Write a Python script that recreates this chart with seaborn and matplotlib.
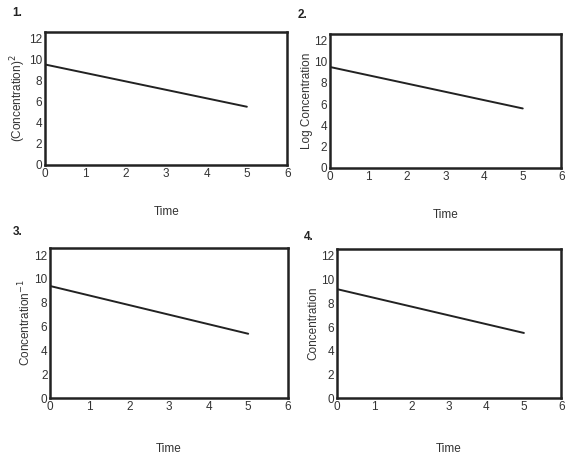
import matplotlib
matplotlib.use("Agg")
import matplotlib.pyplot as plt
import seaborn as sns
import pandas as pd

# data
time = [0, 5]
panels = ["1.", "2.", "3.", "4."]
ylabels = ["(Concentration)$^2$", "Log Concentration", "Concentration$^{-1}$", "Concentration"]
y_start = [9.5, 9.5, 9.4, 9.2]
y_end = [5.5, 5.6, 5.4, 5.5]
xticks = [0, 1, 2, 3, 4, 5, 6]
yticks = [0, 2, 4, 6, 8, 10, 12]

sns.set_style("white")
plt.rcParams['font.family'] = ['Liberation Sans', 'DejaVu Sans']

fig = plt.figure(figsize=(5.71, 4.54), dpi=100)

# axes boxes [left, bottom, width, height] in figure fractions
boxes = [
    [0.079, 0.637, 0.424, 0.293],
    [0.578, 0.630, 0.405, 0.295],
    [0.088, 0.123, 0.416, 0.331],
    [0.590, 0.123, 0.393, 0.329],
]
label_pos = [(0.022, 0.965), (0.522, 0.960), (0.022, 0.483), (0.532, 0.472)]
xlabel_pad = [19, 19, 22, 22]

for i in range(4):
    ax = fig.add_axes(boxes[i])
    df = pd.DataFrame({"Time": time, "y": [y_start[i], y_end[i]]})
    sns.lineplot(data=df, x="Time", y="y", ax=ax, color="#222222", linewidth=1.4)
    ax.set_xlim(0, 6)
    ax.set_ylim(0, 12.6)
    ax.set_xticks(xticks)
    ax.set_yticks(yticks)
    ax.tick_params(length=0, labelsize=8.5, colors="#333333", pad=2)
    ax.set_xlabel("Time", fontsize=8.5, labelpad=xlabel_pad[i], color="#333333")
    ax.set_ylabel(ylabels[i], fontsize=8.5, labelpad=1, color="#333333")
    for s in ax.spines.values():
        s.set_visible(True)
        s.set_linewidth(1.8)
        s.set_color("#222222")
    fig.text(label_pos[i][0], label_pos[i][1], panels[i], fontsize=8.5,
             fontweight="bold", color="#222222")

fig.savefig("out.png", dpi=100)
